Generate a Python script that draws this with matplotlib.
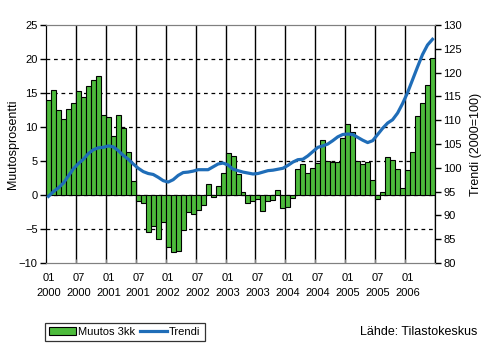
import numpy as np
import matplotlib
matplotlib.use("Agg")
import matplotlib.pyplot as plt
from matplotlib.patches import Patch
from matplotlib.lines import Line2D

plt.rcParams['font.family'] = ['Liberation Sans', 'DejaVu Sans']

# Monthly values, January 2000 - June 2006
muutos_3kk = [
    14.0, 15.4, 12.5, 11.2, 12.7, 13.5, 15.3, 14.4, 16.1, 16.9, 17.5, 11.8,
    11.5, 8.7, 11.8, 9.9, 6.3, 2.1, -0.9, -1.2, -5.4, -4.5, -6.5, -4.0,
    -7.6, -8.4, -8.2, -5.1, -2.5, -2.8, -2.2, -1.4, 1.6, -0.3, 1.3, 3.2,
    6.2, 5.7, 3.1, 0.5, -1.2, -0.9, -0.6, -2.4, -0.9, -0.7, 0.7, -1.9,
    -1.8, -0.4, 3.8, 4.6, 3.2, 4.0, 4.7, 8.1, 5.0, 4.8, 4.85, 8.4,
    10.4, 9.3, 5.0, 4.6, 4.85, 2.2, -0.6, 0.45, 5.6, 5.1, 3.8, 1.0,
    3.7, 6.3, 11.6, 13.5, 16.2, 20.1,
]
trendi = [
    94.0, 95.0, 95.8, 96.8, 98.3, 99.8, 100.9, 101.8, 103.0, 103.8, 104.2, 104.3,
    104.6, 104.4, 103.6, 102.6, 101.8, 100.8, 99.9, 99.2, 98.8, 98.6, 98.0, 97.3,
    97.0, 97.5, 98.4, 99.0, 99.1, 99.3, 99.6, 99.6, 99.6, 100.2, 100.8, 101.0,
    100.6, 99.7, 99.4, 99.1, 98.9, 98.7, 98.8, 99.1, 99.4, 99.5, 99.7, 99.9,
    100.5, 101.2, 101.7, 101.8, 102.5, 103.4, 104.3, 104.6, 105.0, 105.7, 106.5, 107.0,
    107.1, 107.0, 106.4, 105.8, 105.3, 105.7, 107.0, 108.3, 109.4, 110.1, 111.5, 113.5,
    115.8, 118.5, 121.2, 123.8, 125.8, 127.0,
]
tick_labels = ["01\n2000", "07\n2000", "01\n2001", "07\n2001", "01\n2002",
               "07\n2002", "01\n2003", "07\n2003", "01\n2004", "07\n2004",
               "01\n2005", "07\n2005", "01\n2006"]

bar_color = '#4DBB3C'
line_color = '#1F6DB8'
fs = 8

W, H = 501, 346
fig = plt.figure(figsize=(W / 100, H / 100), dpi=100)
ax = fig.add_axes([46 / W, (H - 263) / H, 389 / W, 238 / H])
ax2 = ax.twinx()

x = np.arange(len(muutos_3kk))
ax.bar(x, muutos_3kk, width=1.0, color=bar_color, edgecolor='black',
       linewidth=0.8, zorder=3)
ax2.plot(x, trendi, color=line_color, linewidth=2.3, zorder=4)

ax.set_xlim(-0.5, len(x) - 0.5)
ax.set_ylim(-10, 25)
ax.set_yticks(np.arange(-10, 26, 5))
ax2.set_ylim(80, 130)
ax2.set_yticks(np.arange(80, 131, 5))

# dashed horizontal gridlines, solid vertical lines every six months
for yv in range(-5, 25, 5):
    ax.axhline(yv, color='black', linestyle=(0, (3, 3)), linewidth=0.9, zorder=1)
bounds = np.arange(-0.5, len(x), 6)
for b in bounds[1:]:
    ax.axvline(b, color='black', linewidth=1.0, zorder=1)

ax.set_xticks(bounds)
ax.set_xticklabels([])
ax.set_xticks(np.arange(0, len(x), 6)[:len(tick_labels)], minor=True)
ax.set_xticklabels(tick_labels, minor=True, fontsize=fs, linespacing=1.6)
ax.tick_params(axis='x', which='major', direction='in', length=3, color='#808080')
ax.tick_params(axis='x', which='minor', length=0, pad=7)

ax.tick_params(axis='y', direction='out', length=4, width=1, labelsize=fs, pad=2)
ax2.tick_params(axis='y', direction='out', length=4, width=1, labelsize=fs, pad=2)

for a in (ax, ax2):
    a.spines['top'].set_color('#808080')
    a.spines['bottom'].set_color('#808080')
    a.spines['left'].set_color('black')
    a.spines['right'].set_color('black')

ax.set_ylabel("Muutosprosentti", fontsize=fs + 1, labelpad=0)
ax2.set_ylabel("Trendi (2000=100)", fontsize=fs + 1, labelpad=6)

handles = [Patch(facecolor=bar_color, edgecolor='black', linewidth=0.8),
           Line2D([0], [0], color=line_color, linewidth=2.3)]
leg = fig.legend(handles, ["Muutos 3kk", "Trendi"], loc='center left',
                 bbox_to_anchor=(45 / W, 1 - 332 / H), ncol=2, fontsize=fs,
                 frameon=True, fancybox=False, handlelength=2.4,
                 handletextpad=0.2, columnspacing=0.4, borderpad=0.4,
                 borderaxespad=0)
leg.get_frame().set_edgecolor('black')
leg.get_frame().set_linewidth(0.9)

fig.text(360 / W, 1 - 332 / H, "Lähde: Tilastokeskus", fontsize=fs + 1,
         ha='left', va='center')

fig.savefig("out.png", dpi=100)
